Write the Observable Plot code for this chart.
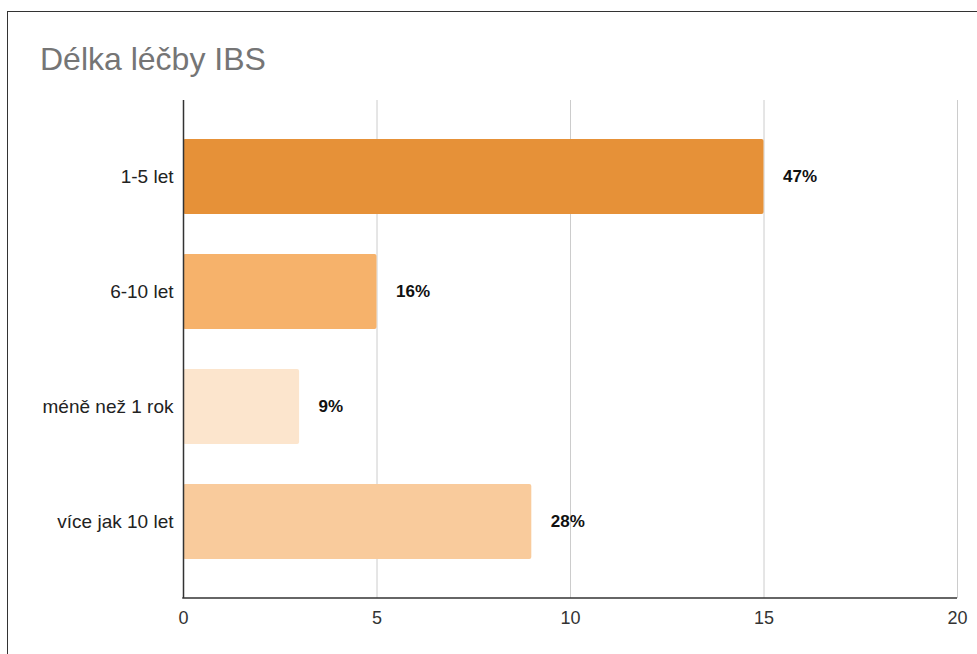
<!DOCTYPE html>
<html>
<head>
<meta charset="utf-8">
<script src="https://cdn.jsdelivr.net/npm/d3@7"></script>
<script src="https://cdn.jsdelivr.net/npm/@observablehq/plot@0.6"></script>
<style>
  html, body { margin: 0; padding: 0; background: #fff; overflow: hidden; }
  body { width: 977px; height: 654px; position: relative; font-family: Arial, "Liberation Sans", sans-serif; }
  #frame { position: absolute; left: 7px; top: 11px; width: 2000px; height: 2000px;
           border-left: 1px solid #333; border-top: 1px solid #333; pointer-events: none; }
  #title { box-sizing: border-box; height: 80px; padding-top: 43px; padding-left: 40px;
           font-size: 32px; line-height: 32px; color: #757575; }
</style>
</head>
<body>
<div id="frame"></div>
<div id="title">Délka léčby IBS</div>
<div id="chart"></div>
<script>
const categories = ["1-5 let", "6-10 let", "méně než 1 rok", "více jak 10 let"];
const values = [15, 5, 3, 9];
const valueLabels = ["47%", "16%", "9%", "28%"];
const barColors = ["#E69138", "#F6B26B", "#FCE5CD", "#F9CB9C"];
const xTicks = [0, 5, 10, 15, 20];

const data = categories.map((c, i) => ({cat: c, value: values[i], label: valueLabels[i]}));

const chart = Plot.plot({
  width: 977,
  height: 558,
  marginTop: 20,
  marginBottom: 40,
  marginLeft: 183,
  marginRight: 20,
  style: {fontFamily: 'Arial, "Liberation Sans", sans-serif', fontSize: "18px", color: "#222", background: "transparent"},
  x: {domain: [0, 20], ticks: xTicks, label: null},
  y: {domain: categories, paddingInner: 0.35, paddingOuter: 0.33, label: null},
  color: {domain: categories, range: barColors},
  marks: [
    Plot.ruleX(xTicks.slice(1), {stroke: "#cccccc", strokeWidth: 1}),
    Plot.barX(data, {x: "value", y: "cat", fill: "cat", rx: 2}),
    Plot.ruleX([0], {stroke: "#333", strokeWidth: 1.5}),
    Plot.text(data, {x: "value", y: "cat", text: "label", dx: 19, textAnchor: "start",
                     fontWeight: "bold", fontSize: 17, fill: "#111"}),
    Plot.axisX({ticks: xTicks, tickSize: 0, tickPadding: 13, fill: "#333", fontSize: 18, label: null}),
    Plot.axisY({tickSize: 0, tickPadding: 10, fill: "#222", fontSize: 19, label: null})
  ]
});

// bottom axis line drawn with the plot's own x scale
const xs = chart.scale("x");
const svg = d3.select(chart);
const yBottom = 558 - 40;
svg.append("line")
  .attr("x1", xs.apply(0) - 0.75).attr("x2", xs.apply(20))
  .attr("y1", yBottom).attr("y2", yBottom)
  .attr("stroke", "#333").attr("stroke-width", 1.5);

document.getElementById("chart").appendChild(chart);
</script>
</body>
</html>
